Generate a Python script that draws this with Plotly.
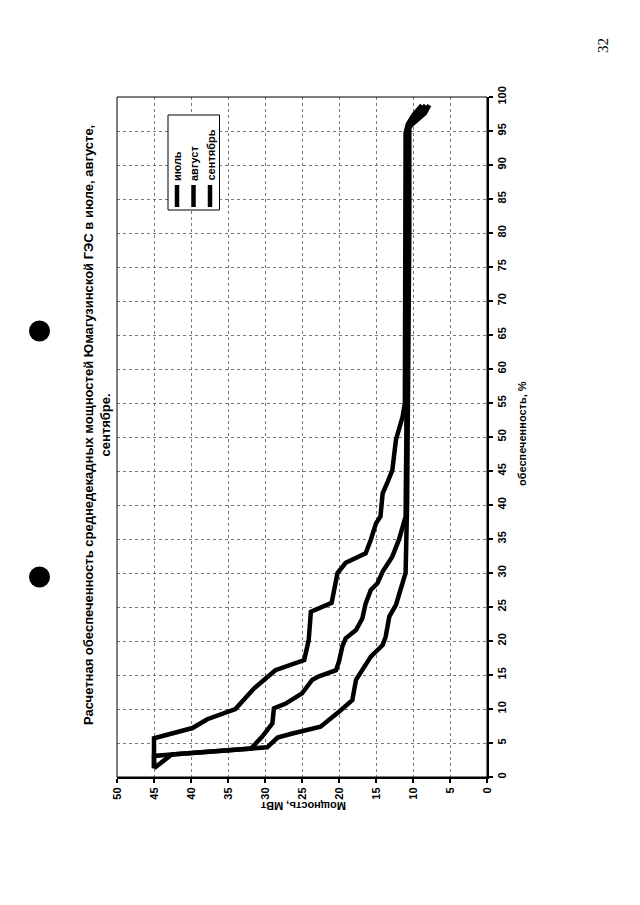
import plotly.graph_objects as go

# ---------------- data ----------------
months = ["июль", "август", "сентябрь"]

july_pct = [1.3, 5.7, 7.2, 8.5, 10.0, 13.0, 15.7, 17.2, 20.1, 24.3, 25.6, 30.0, 31.5, 32.9,
            34.9, 37.3, 38.3, 41.7, 43.2, 45.1, 49.6, 53.0, 55.0, 60, 70, 80, 90, 94.7,
            96.0, 97.4, 98.8]
july_mw = [45, 45, 39.8, 37.8, 34.0, 31.5, 28.6, 24.7, 24.1, 23.8, 21.0, 20.2, 19.1, 16.4,
           15.7, 15.0, 14.4, 14.1, 13.5, 12.8, 12.3, 11.4, 11.1, 11.1, 11.05, 11.0, 11.0, 11.0,
           10.7, 9.9, 8.8]

aug_pct = [1.3, 3.1, 3.3, 4.18, 5.9, 7.9, 10.1, 10.8, 12.3, 14.3, 14.8, 15.7, 17.0, 19.2,
           20.4, 21.6, 23.3, 25.5, 27.5, 28.5, 30.2, 32.4, 34.9, 37.5, 38.3, 50, 60, 70,
           80, 90, 95.2, 97.5, 98.8]
aug_mw = [45, 45, 42.6, 31.9, 30.4, 29.0, 28.8, 27.2, 25.0, 23.6, 22.7, 20.4, 20.0, 19.55,
          19.1, 17.7, 16.85, 16.4, 15.7, 14.8, 14.1, 12.8, 11.9, 11.2, 11.0, 10.9, 10.85, 10.8,
          10.8, 10.75, 10.7, 9.2, 8.3]

sep_pct = [1.3, 2.75, 3.3, 4.36, 5.8, 6.4, 7.4, 9.6, 11.3, 14.3, 15.7, 17.7, 19.4, 20.6,
           23.6, 25.3, 27.5, 30.0, 40, 50, 60, 70, 80, 90, 95.6, 97.6, 98.8]
sep_mw = [45, 43.2, 42.6, 29.7, 28.3, 26.3, 22.5, 20.0, 18.2, 17.7, 16.85, 15.7, 14.1, 13.7,
          13.2, 12.3, 11.7, 11.0, 10.8, 10.7, 10.6, 10.55, 10.5, 10.5, 10.5, 8.4, 7.8]

power_ticks = list(range(0, 51, 5))
pct_ticks = list(range(0, 101, 5))

title_line1 = "Расчетная обеспеченность среднедекадных мощностей Юмагузинской ГЭС в июле, августе,"
title_line2 = "сентябре."
x_title = "Мощность, МВт"
y_title = "обеспеченность, %"
page_no = "32"

# ---------------- layout geometry (page pixels; html body has 8px margin) ----------------
OFF = 8
W, H = 624, 889
L, R, T, B = 117, 487, 97, 777


def px(x):
    return (x - L) / (R - L)


def py(y):
    return (B - y) / (B - T)


FONT = "Liberation Sans, Arial, sans-serif"

fig = go.Figure()
for name, xs, ys in [(months[0], july_mw, july_pct),
                     (months[1], aug_mw, aug_pct),
                     (months[2], sep_mw, sep_pct)]:
    fig.add_trace(go.Scatter(x=xs, y=ys, mode="lines", name=name,
                             line=dict(color="black", width=4.5),
                             showlegend=False))

fig.update_layout(
    width=W, height=H,
    margin=dict(l=L - OFF, r=W - (R - OFF), t=T - OFF, b=H - (B - OFF), pad=0),
    paper_bgcolor="white", plot_bgcolor="white",
    font=dict(family=FONT, color="black"),
    xaxis=dict(range=[50, 0], tickvals=power_ticks, ticktext=[str(v) for v in power_ticks],
               tickangle=-90, side="bottom", showline=True, linewidth=2, linecolor="black",
               ticks="outside", ticklen=4, tickwidth=1.5, tickcolor="black",
               showgrid=True, gridcolor="#777", griddash="dot", gridwidth=1,
               zeroline=False, tickfont=dict(size=11, family=FONT, weight="bold")),
    yaxis=dict(range=[0, 100], tickvals=pct_ticks, ticktext=[str(v) for v in pct_ticks],
               tickangle=-90, side="right", showline=True, linewidth=2, linecolor="black",
               ticks="outside", ticklen=4, tickwidth=1.5, tickcolor="black",
               showgrid=True, gridcolor="#777", griddash="dot", gridwidth=1,
               zeroline=False, tickfont=dict(size=11, family=FONT, weight="bold")),
)

shapes = []
# thin frame (top and left)
shapes.append(dict(type="rect", xref="paper", yref="paper", x0=0, x1=1, y0=0, y1=1,
                   line=dict(color="black", width=1), layer="above"))
# legend box
shapes.append(dict(type="rect", xref="paper", yref="paper",
                   x0=px(168), x1=px(219.5), y0=py(210), y1=py(115),
                   line=dict(color="black", width=1), fillcolor="white", layer="above"))
leg_x = [177, 193.5, 210]
for lx in leg_x:
    shapes.append(dict(type="line", xref="paper", yref="paper",
                       x0=px(lx), x1=px(lx), y0=py(207), y1=py(185),
                       line=dict(color="black", width=4.5), layer="above"))
# punch holes
for cy in (331, 577):
    shapes.append(dict(type="circle", xref="paper", yref="paper",
                       x0=px(29), x1=px(50), y0=py(cy + 10.5), y1=py(cy - 10.5),
                       line=dict(color="black", width=0), fillcolor="black"))
fig.update_layout(shapes=shapes)

ann = []
for lx, name in zip(leg_x, months):
    ann.append(dict(text=name, xref="paper", yref="paper", x=px(lx), y=py(183),
                    xanchor="center", yanchor="bottom", textangle=-90, showarrow=False,
                    font=dict(size=11, family=FONT, weight="bold")))
ann.append(dict(text=title_line1 + "<br>" + title_line2, xref="paper", yref="paper",
                x=px(97), y=py(425), xanchor="center", yanchor="middle", textangle=-90,
                showarrow=False, font=dict(size=13, family=FONT, weight="bold")))
ann.append(dict(text=x_title, xref="paper", yref="paper", x=px(303), y=py(806),
                xanchor="center", yanchor="middle", textangle=180, showarrow=False,
                font=dict(size=11, family=FONT, weight="bold")))
ann.append(dict(text=y_title, xref="paper", yref="paper", x=px(522), y=py(434),
                xanchor="center", yanchor="middle", textangle=-90, showarrow=False,
                font=dict(size=11, family=FONT, weight="bold")))
ann.append(dict(text=page_no, xref="paper", yref="paper", x=px(603), y=py(46),
                xanchor="center", yanchor="middle", textangle=-90, showarrow=False,
                font=dict(size=15, family="Liberation Serif, serif")))
fig.update_layout(annotations=ann)

fig.write_html("out.html")
